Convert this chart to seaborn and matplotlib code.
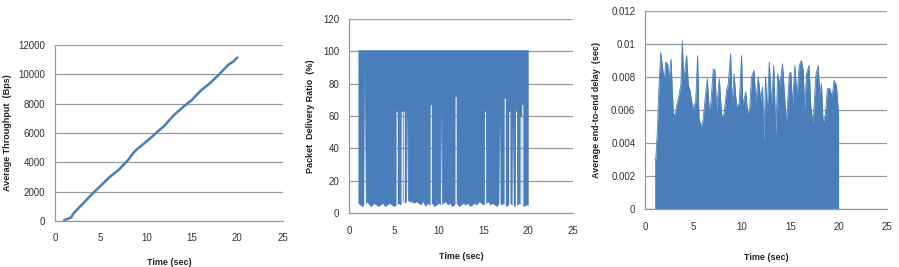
import numpy as np
import seaborn as sns
import matplotlib.pyplot as plt
from matplotlib.ticker import FuncFormatter

# --- data ---
# average throughput (Bps) over time
thr_time = [1.0, 1.5, 1.8, 2.0, 3.0, 4.0, 5.0, 6.0, 7.0, 8.0, 8.6, 9.0, 10.0, 11.0,
            12.0, 13.0, 14.0, 15.0, 16.0, 17.0, 18.0, 19.0, 19.5, 20.0]
thr_value = [50, 180, 250, 500, 1150, 1800, 2400, 3000, 3500, 4150, 4650, 4900, 5400, 5950,
             6500, 7200, 7750, 8250, 8900, 9400, 10000, 10650, 10850, 11150]

# packet delivery ratio: samples swing between a low floor and 100 %
pdr_floor_time = list(np.arange(1.0, 20.01, 0.25))
pdr_floor = [6, 5, 4, 5, 7, 5, 4, 6, 5, 4, 5, 6, 4, 5, 6, 5, 4, 5, 6, 5,
             7, 6, 8, 7, 7, 6, 7, 6, 5, 7, 4, 6, 5, 6, 4, 5, 6, 5, 6, 7,
             5, 6, 4, 5, 6, 4, 5, 6, 5, 6, 4, 5, 6, 5, 7, 6, 5, 6, 7, 5,
             6, 5, 4, 6, 5, 6, 4, 5, 6, 5, 4, 5, 6, 5, 4, 5, 5]
pdr_top = 101
# moments where the ratio never dipped to the floor (white gaps) and their minimum
pdr_gap_time = [1.71, 1.78, 5.32, 5.88, 6.10, 6.47, 9.12, 10.27, 11.90, 15.18,
                16.78, 17.38, 17.90, 18.27, 18.64, 19.16, 19.34]
pdr_gap_min = [93, 68, 63, 63, 63, 67, 67, 63, 72, 63,
               60, 71, 63, 57, 63, 60, 67]

# average end-to-end delay (sec), peak envelope of the dense bars
delay_time = [1.0, 1.1, 1.27, 1.44, 1.62, 1.82, 2.0, 2.13, 2.34, 2.48, 2.68, 2.92, 3.1, 3.27,
              3.5, 3.7, 3.85, 4.0, 4.3, 4.47, 4.64, 4.92, 5.23, 5.43, 5.57, 5.78, 6.0,
              6.19, 6.43, 6.64, 6.81, 7.05, 7.22, 7.39, 7.67, 7.9, 8.15, 8.42, 8.6, 8.84,
              9.0, 9.2, 9.45, 9.73, 9.97, 10.1, 10.4, 10.6, 10.8, 11.0, 11.25, 11.45,
              11.7, 11.94, 12.14, 12.28, 12.45, 12.62, 12.83, 13.07, 13.3, 13.51, 13.7,
              13.93, 14.2, 14.44, 14.6, 14.9, 15.06, 15.23, 15.47, 15.7, 15.92, 16.16,
              16.33, 16.5, 16.67, 16.95, 17.12, 17.36, 17.64, 17.88, 18.05, 18.22, 18.4,
              18.64, 18.84, 19.08, 19.32, 19.53, 19.77, 19.98, 20.0]
delay_value = [0.0030, 0.0030, 0.0047, 0.0075, 0.0095, 0.0085, 0.0078, 0.0089, 0.0088,
               0.0078, 0.0091, 0.0058, 0.0057, 0.0063, 0.0069, 0.0075, 0.0102, 0.0078,
               0.0093, 0.0075, 0.0072, 0.0061, 0.0065, 0.0093, 0.0055, 0.0050, 0.0054,
               0.0066, 0.0079, 0.0059, 0.0065, 0.0085, 0.0084, 0.0060, 0.0079, 0.0057,
               0.0057, 0.0072, 0.0076, 0.0094, 0.0063, 0.0082, 0.0062, 0.0064, 0.0093,
               0.0063, 0.0071, 0.0058, 0.0060, 0.0080, 0.0084, 0.0065, 0.0080, 0.0066,
               0.0074, 0.0040, 0.0080, 0.0058, 0.0089, 0.0064, 0.0087, 0.0045, 0.0082,
               0.0075, 0.0088, 0.0066, 0.0052, 0.0082, 0.0083, 0.0063, 0.0087, 0.0068,
               0.0087, 0.0090, 0.0084, 0.0060, 0.0082, 0.0087, 0.0062, 0.0052, 0.0081,
               0.0087, 0.0070, 0.0076, 0.0052, 0.0058, 0.0073, 0.0073, 0.0068, 0.0078,
               0.0075, 0.0058, 0.0057]

x_ticks = [0, 5, 10, 15, 20, 25]
blue = '#4A7EBB'
grid_col = '#9a9a9a'

sns.set_style('white')
plt.rcParams['font.family'] = ['Liberation Sans', 'DejaVu Sans']

fig = plt.figure(figsize=(8.99, 2.67), dpi=100)
ax1 = fig.add_axes([0.0612, 0.1723, 0.2536, 0.6592])
ax2 = fig.add_axes([0.3882, 0.2022, 0.2492, 0.7266])
ax3 = fig.add_axes([0.7175, 0.2172, 0.2692, 0.7416])


def style(ax, ymax, ystep, ylabel, ylab_x, xlab_y):
    ax.set_xlim(0, 25)
    ax.set_ylim(0, ymax)
    ax.set_xticks(x_ticks)
    ax.set_yticks(np.linspace(0, ymax, int(round(ymax / ystep)) + 1))
    ax.yaxis.set_major_formatter(FuncFormatter(lambda v, p: f'{round(v, 6):g}'))
    ax.grid(axis='y', color=grid_col, linewidth=0.9)
    ax.set_axisbelow(True)
    for s in ['top', 'right']:
        ax.spines[s].set_visible(False)
    for s in ['left', 'bottom']:
        ax.spines[s].set_color(grid_col)
        ax.spines[s].set_linewidth(0.9)
    ax.tick_params(axis='both', labelsize=7, length=3, width=0.8, color=grid_col,
                   labelcolor='#333333', direction='out')
    ax.tick_params(axis='x', pad=6)
    ax.tick_params(axis='y', pad=4)
    ax.set_xlabel('Time (sec)', fontsize=6.5, fontweight='bold', color='#222222')
    ax.set_ylabel(ylabel, fontsize=6.5, fontweight='bold', color='#222222')
    ax.yaxis.set_label_coords(ylab_x, 0.5)
    ax.xaxis.set_label_coords(0.5, xlab_y)


# panel 1: throughput line
sns.lineplot(x=thr_time, y=thr_value, ax=ax1, color=blue, linewidth=1.8)
style(ax1, 12000, 2000, 'Average Throughput  (Bps)', -0.19, -0.21)

# panel 2: delivery ratio band, floor lifted where gaps appear
t = list(pdr_floor_time)
low = list(pdr_floor)
w = 0.06
for gt, gm in zip(pdr_gap_time, pdr_gap_min):
    base = float(np.interp(gt, pdr_floor_time, pdr_floor))
    t += [gt - w - 0.01, gt - w, gt + w, gt + w + 0.01]
    low += [base, gm, gm, base]
order = np.argsort(t)
t = np.array(t)[order]
low = np.array(low)[order]
ax2.fill_between(t, low, pdr_top, color=blue, linewidth=0)
style(ax2, 120, 20, 'Packet  Delivery Ratio  (%)', -0.152, -0.20)

# panel 3: delay bars envelope
ax3.fill_between(delay_time, 0, delay_value, color=blue, linewidth=0)
sns.lineplot(x=delay_time, y=delay_value, ax=ax3, color=blue, linewidth=0.6)
style(ax3, 0.012, 0.002, 'Average end-to-end delay  (sec)', -0.18, -0.22)

fig.savefig('out.png', dpi=100)
